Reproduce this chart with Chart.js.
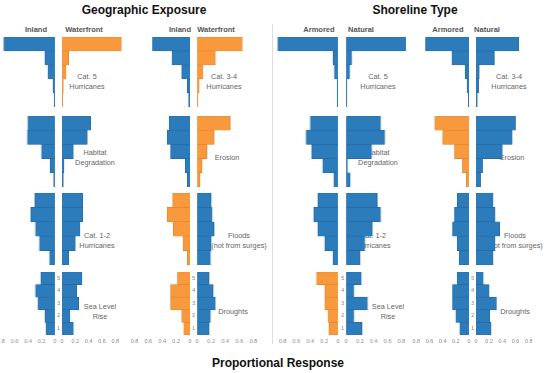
<!DOCTYPE html>
<html><head><meta charset="utf-8">
<script src="https://cdn.jsdelivr.net/npm/chart.js@4"></script>
<style>
html,body{margin:0;padding:0;background:#fff;}
#wrap{position:relative;width:550px;height:373px;overflow:hidden;font-family:"Liberation Sans",Arial,Helvetica,sans-serif;}
canvas{position:absolute;}
.t{position:absolute;white-space:nowrap;transform:translate(-50%,-50%);text-align:center;}
.title{font-weight:bold;font-size:12px;color:#111;}
.sub{font-weight:bold;font-size:7.5px;color:#555;}
.lab{font-size:7.3px;color:#666;line-height:10px;}
</style></head><body><div id="wrap"></div>
<script>
// ---------- DATA ----------
const ratings = ['5', '4', '3', '2', '1'];
const groupTitles = ['Geographic Exposure', 'Shoreline Type'];
const axisTitle = 'Proportional Response';
const sideNames = [['Inland', 'Waterfront'], ['Inland', 'Waterfront'], ['Armored', 'Natural'], ['Armored', 'Natural']];
const threatsA = [['Cat. 5', 'Hurricanes'], ['Habitat', 'Degradation'], ['Cat. 1-2', 'Hurricanes'], ['Sea Level', 'Rise']];
const threatsB = [['Cat. 3-4', 'Hurricanes'], ['Erosion'], ['Floods', '(not from surges)'], ['Droughts']];

// values per threat row, ratings 5..1
const geoInlandA     = [[0.76, 0.15, 0.10, 0.03, 0.01], [0.40, 0.41, 0.20, 0.07, 0.02], [0.30, 0.36, 0.29, 0.23, 0.08], [0.21, 0.29, 0.25, 0.15, 0.13]];
const geoWaterfrontA = [[0.89, 0.10, 0.06, 0.02, 0.01], [0.43, 0.38, 0.17, 0.03, 0.02], [0.31, 0.31, 0.27, 0.20, 0.10], [0.30, 0.22, 0.25, 0.12, 0.17]];
const geoInlandB     = [[0.54, 0.26, 0.12, 0.04, 0.02], [0.30, 0.33, 0.28, 0.07, 0.04], [0.25, 0.33, 0.24, 0.10, 0.04], [0.18, 0.28, 0.28, 0.12, 0.09]];
const geoWaterfrontB = [[0.64, 0.26, 0.08, 0.03, 0.01], [0.47, 0.24, 0.14, 0.07, 0.04], [0.20, 0.21, 0.24, 0.20, 0.19], [0.17, 0.23, 0.26, 0.19, 0.17]];
const shoreArmoredA  = [[0.87, 0.07, 0.05, 0.01, 0.01], [0.40, 0.46, 0.38, 0.22, 0.06], [0.29, 0.35, 0.29, 0.19, 0.07], [0.31, 0.19, 0.19, 0.14, 0.13]];
const shoreNaturalA  = [[0.86, 0.08, 0.05, 0.01, 0.01], [0.50, 0.56, 0.37, 0.02, 0.06], [0.45, 0.50, 0.38, 0.27, 0.20], [0.22, 0.11, 0.31, 0.11, 0.23]];
const shoreArmoredB  = [[0.66, 0.26, 0.06, 0.03, 0.01], [0.52, 0.40, 0.22, 0.10, 0.04], [0.18, 0.22, 0.25, 0.18, 0.15], [0.18, 0.25, 0.25, 0.20, 0.14]];
const shoreNaturalB  = [[0.65, 0.28, 0.05, 0.04, 0.02], [0.60, 0.55, 0.40, 0.10, 0.07], [0.26, 0.29, 0.36, 0.29, 0.26], [0.11, 0.20, 0.31, 0.21, 0.23]];

// which half-panels are highlighted (orange)
const highlightRows = [
  [[], [0]],
  [[2, 3], [0, 1]],
  [[3], []],
  [[1], []]
];

// ---------- STYLE / LAYOUT ----------
const BLUE = '#2c7bba', BLUE_B = '#2468a0';
const ORANGE = '#f8993d', ORANGE_B = '#e0832c';
const cols = [
  { lz: 55,  rz: 62,  u: 67, lmax: 0.83, rmax: 0.9,  data: [geoInlandA, geoWaterfrontA], threats: threatsA, labX: [87, 95, 97, 100] },
  { lz: 190, rz: 197, u: 70, lmax: 0.85, rmax: 0.85, data: [geoInlandB, geoWaterfrontB], threats: threatsB, labX: [224, 227, 239, 233] },
  { lz: 338, rz: 346, u: 69, lmax: 0.88, rmax: 0.88, data: [shoreArmoredA, shoreNaturalA], threats: threatsA, labX: [378, 378, 373, 388] },
  { lz: 469, rz: 476, u: 66, lmax: 0.85, rmax: 0.85, data: [shoreArmoredB, shoreNaturalB], threats: threatsB, labX: [509, 512, 515, 515] }
];
const rows = [{ top: 37, h: 70, ly: 82 }, { top: 116, h: 71, ly: 158 }, { top: 193, h: 72, ly: 241 }, { top: 272, h: 63, ly: 312 }];
const subX = [[36, 84], [180, 216], [319, 361], [448, 487]];

const wrap = document.getElementById('wrap');
function addText(html, x, y, cls) {
  const d = document.createElement('div');
  d.className = 't ' + cls;
  d.innerHTML = html;
  d.style.left = x + 'px'; d.style.top = y + 'px';
  wrap.appendChild(d);
}
addText(groupTitles[0], 144, 10, 'title');
addText(groupTitles[1], 415, 10, 'title');
addText(axisTitle, 278, 363, 'title');
const sep = document.createElement('div');
sep.style.cssText = 'position:absolute;left:272px;top:24px;width:1px;height:320px;background:#ddd;';
wrap.appendChild(sep);

cols.forEach((c, ci) => {
  sideNames[ci].forEach((n, si) => addText(n, subX[ci][si], 29, 'sub'));
  rows.forEach((r, ri) => addText(c.threats[ri].join('<br>'), c.labX[ri], r.ly, 'lab'));
});

const P = 6, T = 3;
cols.forEach((c, ci) => {
  rows.forEach((r, ri) => {
    [0, 1].forEach(si => {
      const vals = c.data[si][ri];
      const hl = highlightRows[ci][si].includes(ri);
      const bottom = ri === 3;
      const max = si === 0 ? c.lmax : c.rmax;
      const areaW = max * c.u;
      const left = (si === 0 ? c.lz - areaW : c.rz) - P;
      const axisH = bottom ? 14 : 0;
      const cv = document.createElement('canvas');
      const W = areaW + 2 * P, H = r.h + T + axisH + 2;
      cv.style.left = left + 'px'; cv.style.top = (r.top - T) + 'px';
      cv.style.width = W + 'px'; cv.style.height = H + 'px';
      cv.width = W; cv.height = H;
      wrap.appendChild(cv);
      const showY = si === 1 && bottom;
      new Chart(cv, {
        type: 'bar',
        data: {
          labels: ratings,
          datasets: [{
            data: vals,
            backgroundColor: hl ? ORANGE : BLUE,
            borderColor: hl ? ORANGE_B : BLUE_B,
            borderWidth: 0.6,
            barPercentage: 1,
            categoryPercentage: 1
          }]
        },
        options: {
          indexAxis: 'y',
          responsive: false,
          animation: false,
          events: [],
          layout: { padding: { left: showY ? 0 : P, right: P, top: T, bottom: 2 } },
          plugins: { legend: { display: false }, tooltip: { enabled: false } },
          scales: {
            x: {
              display: bottom,
              reverse: si === 0,
              min: 0, max: max,
              grid: { display: false, drawTicks: false },
              border: { display: false },
              ticks: { stepSize: 0.2, includeBounds: false, font: { size: 5.5, family: 'Liberation Sans' }, color: '#888', padding: 3, maxRotation: 0, autoSkip: false },
              afterFit: s => { s.paddingLeft = 0; s.paddingRight = 0; if (bottom) s.height = axisH; }
            },
            y: {
              display: showY,
              grid: { display: false, drawTicks: false },
              border: { display: false },
              ticks: { font: { size: 5, family: 'Liberation Sans' }, color: '#777', padding: 2 },
              afterFit: s => { if (showY) s.width = P; s.paddingTop = 0; s.paddingBottom = 0; }
            }
          }
        }
      });
    });
  });
});
</script>
</body></html>
